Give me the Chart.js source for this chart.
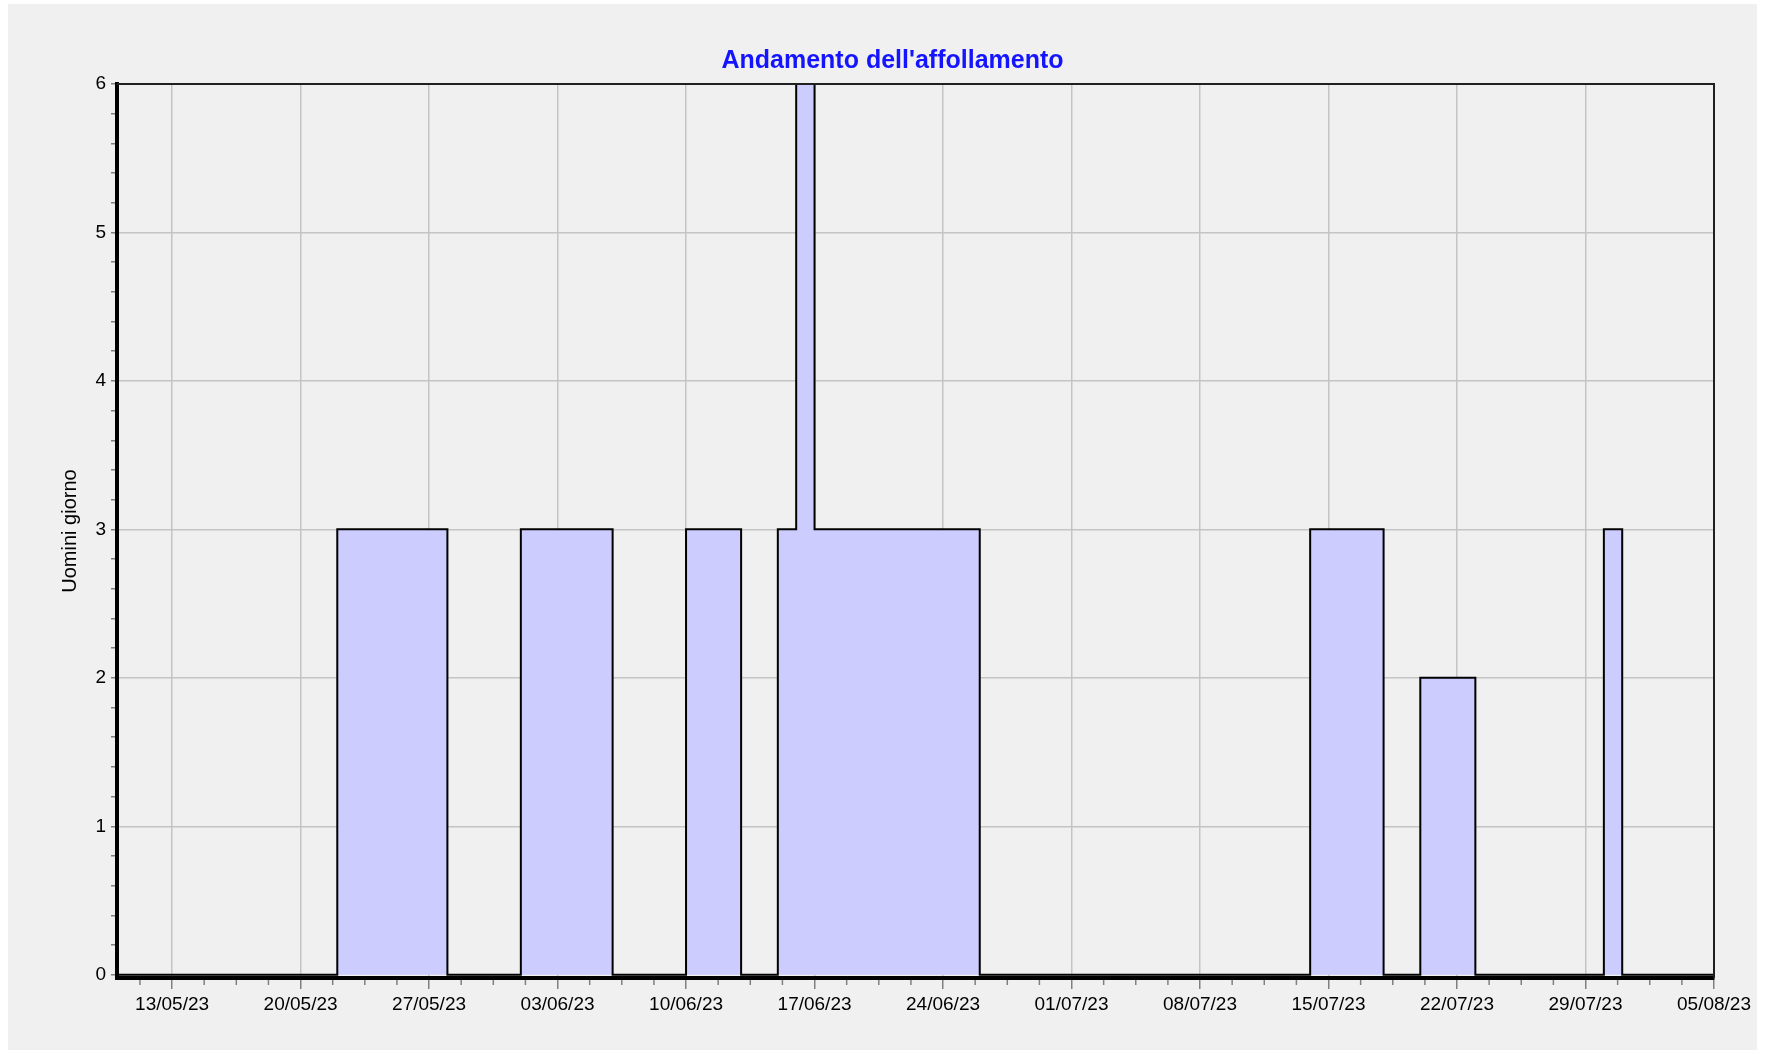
<!DOCTYPE html>
<html>
<head>
<meta charset="utf-8">
<script src="https://cdn.jsdelivr.net/npm/chart.js@4.4.0/dist/chart.umd.min.js"></script>
<style>
    html, body { margin: 0; padding: 0; background: #ffffff; }
    #box { position: absolute; left: 8px; top: 4px; width: 1749px; height: 1046px; background: #f0f0f0; }
    canvas { display: block; }
</style>
</head>
<body>
<div id="box"><canvas id="affChart" width="1749" height="1046"></canvas></div>
<script>
// giorni a partire dal 10/05/23 (indice 0) fino al 05/08/23 (indice 87)
const uominiGiorno = [
    0, 0, 0, 0, 0, 0, 0, 0, 0, 0, 0, 0,      // 10/05 - 21/05
    3, 3, 3, 3, 3, 3,                        // 22/05 - 27/05
    0, 0, 0, 0,                              // 28/05 - 31/05
    3, 3, 3, 3, 3,                           // 01/06 - 05/06
    0, 0, 0, 0,                              // 06/06 - 09/06
    3, 3, 3,                                 // 10/06 - 12/06
    0, 0,                                    // 13/06 - 14/06
    3, 6, 3, 3, 3, 3, 3, 3, 3, 3, 3,         // 15/06 - 25/06
    0, 0, 0, 0, 0, 0, 0, 0, 0, 0, 0, 0, 0, 0, 0, 0, 0, 0,   // 26/06 - 13/07
    3, 3, 3, 3,                              // 14/07 - 17/07
    0, 0,                                    // 18/07 - 19/07
    2, 2, 2,                                 // 20/07 - 22/07
    0, 0, 0, 0, 0, 0, 0,                     // 23/07 - 29/07
    3,                                       // 30/07
    0, 0, 0, 0, 0, 0                         // 31/07 - 05/08
];

// tacche principali ogni settimana (giorni dal 10/05)
const giorniSettimane = [3, 10, 17, 24, 31, 38, 45, 52, 59, 66, 73, 80, 87];
const etichetteSettimane = ['13/05/23', '20/05/23', '27/05/23', '03/06/23', '10/06/23', '17/06/23', '24/06/23',
    '01/07/23', '08/07/23', '15/07/23', '22/07/23', '29/07/23', '05/08/23'];
const ticksY = [0, 0.2, 0.4, 0.6, 0.8, 1, 1.2, 1.4, 1.6, 1.8, 2, 2.2, 2.4, 2.6, 2.8, 3,
    3.2, 3.4, 3.6, 3.8, 4, 4.2, 4.4, 4.6, 4.8, 5, 5.2, 5.4, 5.6, 5.8, 6];
const titolo = "Andamento dell'affollamento";

const punti = uominiGiorno.map((v, i) => ({ x: i, y: v }));

// titolo, cornice sopra/destra + tacche minori asse x
const cornice = {
    id: 'cornice',
    afterDraw(chart) {
        const ctx = chart.ctx;
        const a = chart.chartArea;
        ctx.save();
        ctx.fillStyle = '#1414ff';
        ctx.font = 'bold 25px "Liberation Sans"';
        ctx.textAlign = 'center';
        ctx.textBaseline = 'middle';
        ctx.fillText(titolo, chart.width / 2 + 10, 57);

        ctx.strokeStyle = '#202020';
        ctx.lineWidth = 2;
        ctx.beginPath();
        ctx.moveTo(a.left, a.top);
        ctx.lineTo(a.right, a.top);
        ctx.lineTo(a.right, a.bottom);
        ctx.stroke();

        const sx = chart.scales.x;
        ctx.strokeStyle = '#808080';
        ctx.lineWidth = 1.5;
        for (let d = 1.25; d < 87; d += 1.75) {
            if (giorniSettimane.some(g => Math.abs(g - d) < 0.01)) continue;
            const px = sx.getPixelForValue(d);
            ctx.beginPath();
            ctx.moveTo(px, a.bottom + 2);
            ctx.lineTo(px, a.bottom + 7);
            ctx.stroke();
        }
        ctx.restore();
    }
};

const ctx = document.getElementById('affChart').getContext('2d');
const affChart = new Chart(ctx, {
    type: 'line',
    data: {
        datasets: [{
            label: 'Uomini giorno',
            data: punti,
            stepped: 'before',
            fill: 'origin',
            backgroundColor: '#ccccff',
            borderColor: '#000000',
            borderWidth: 2,
            pointRadius: 0
        }]
    },
    options: {
        responsive: false,
        animation: false,
        devicePixelRatio: 1,
        layout: { padding: { left: 0, right: 43, top: 80, bottom: 0 } },
        scales: {
            x: {
                type: 'linear',
                min: 0,
                max: 87,
                afterBuildTicks: (scale) => {
                    scale.ticks = giorniSettimane.map(g => ({ value: g }));
                },
                afterFit: (scale) => { scale.height = 72; },
                ticks: {
                    autoSkip: false,
                    maxRotation: 0,
                    padding: 4,
                    color: '#000000',
                    font: { family: 'Liberation Sans', size: 19 },
                    callback: (v) => etichetteSettimane[giorniSettimane.indexOf(v)]
                },
                grid: { color: '#c4c4c4', lineWidth: 1.5, tickColor: '#808080', tickLength: 11 },
                border: { color: '#000000', width: 4 }
            },
            y: {
                min: -0.022,
                max: 6,
                afterBuildTicks: (scale) => {
                    scale.ticks = ticksY.map(v => ({ value: v }));
                },
                afterFit: (scale) => { scale.width = 109; },
                ticks: {
                    autoSkip: false,
                    padding: 5,
                    color: '#000000',
                    font: { family: 'Liberation Sans', size: 19 },
                    callback: (v) => Number.isInteger(Math.round(v * 1000) / 1000) ? String(Math.round(v)) : ''
                },
                grid: {
                    lineWidth: 1.5,
                    tickLength: 6,
                    tickColor: '#808080',
                    color: (c) => (Math.abs(c.tick.value - Math.round(c.tick.value)) < 0.001 && c.tick.value > 0) ? '#c4c4c4' : 'rgba(0,0,0,0)'
                },
                border: { color: '#000000', width: 4 },
                title: {
                    display: true,
                    text: 'Uomini giorno',
                    color: '#000000',
                    font: { family: 'Liberation Sans', size: 20 },
                    padding: { top: 50, bottom: 0 }
                }
            }
        },
        plugins: {
            legend: { display: false },
            tooltip: { enabled: false },
            title: { display: false }
        }
    },
    plugins: [cornice]
});
</script>
</body>
</html>
